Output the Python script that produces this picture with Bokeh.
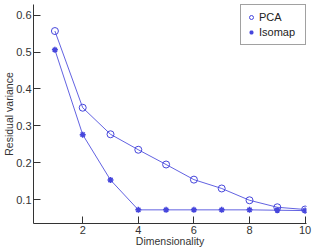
from bokeh.plotting import figure
from bokeh.embed import file_html
from bokeh.resources import INLINE
from bokeh.models import Range1d, FixedTicker, Legend, LegendItem

dims = [1, 2, 3, 4, 5, 6, 7, 8, 9, 10]
pca = [0.557, 0.349, 0.277, 0.235, 0.195, 0.154, 0.130, 0.098, 0.079, 0.073]
isomap = [0.506, 0.276, 0.153, 0.072, 0.072, 0.072, 0.072, 0.072, 0.071, 0.070]
x_ticks = [2, 4, 6, 8, 10]
y_ticks = [0.1, 0.2, 0.3, 0.4, 0.5, 0.6]

COL = "#4646dc"
FONT = "Liberation Sans"

p = figure(width=314, height=249, output_backend="svg", toolbar_location=None,
           x_range=Range1d(0.23, 10.05), y_range=Range1d(0.035, 0.629),
           min_border_left=0, min_border_right=8, min_border_top=4, min_border_bottom=0)
p.outline_line_color = None
p.xgrid.visible = False
p.ygrid.visible = False
p.background_fill_color = "white"

for ax in (p.xaxis[0], p.yaxis[0]):
    ax.major_tick_out = 0
    ax.major_tick_in = 7
    ax.minor_tick_out = 0
    ax.minor_tick_in = 0
    ax.axis_line_color = "#333333"
    ax.major_tick_line_color = "#333333"
    ax.major_label_text_font = FONT
    ax.major_label_text_font_size = "11px"
    ax.major_label_text_color = "#333333"
    ax.axis_label_text_font = FONT
    ax.axis_label_text_font_size = "10.5px"
    ax.axis_label_text_font_style = "normal"
    ax.axis_label_text_color = "#333333"

p.xaxis.major_label_standoff = 2
p.xaxis.axis_label_standoff = -2
p.yaxis.major_label_standoff = 2
p.yaxis.axis_label_standoff = -2

p.xaxis.ticker = FixedTicker(ticks=x_ticks)
p.yaxis.ticker = FixedTicker(ticks=y_ticks)
p.xaxis.axis_label = "Dimensionality"
p.yaxis.axis_label = "Residual variance"

p.line(dims, pca, line_color=COL, line_width=1, line_alpha=0.85)
p.line(dims, isomap, line_color=COL, line_width=1, line_alpha=0.85)
r1 = p.scatter(dims, pca, marker="circle", size=7, fill_color=None, line_color=COL, line_width=1)
r2 = p.scatter(dims, isomap, marker="asterisk", size=6, line_color=COL, line_width=1.5)

legend = Legend(items=[LegendItem(label="PCA", renderers=[r1]),
                       LegendItem(label="Isomap", renderers=[r2])],
                location="top_right", margin=0, padding=5, spacing=1,
                glyph_width=10, glyph_height=14, label_standoff=3,
                label_width=41,
                label_text_font=FONT, label_text_font_size="11px",
                label_text_color="#222222", border_line_color="#444444",
                border_line_width=1, background_fill_color="white")
legend.label_height = 14
p.add_layout(legend)

open("out.html", "w").write(file_html(p, INLINE))
